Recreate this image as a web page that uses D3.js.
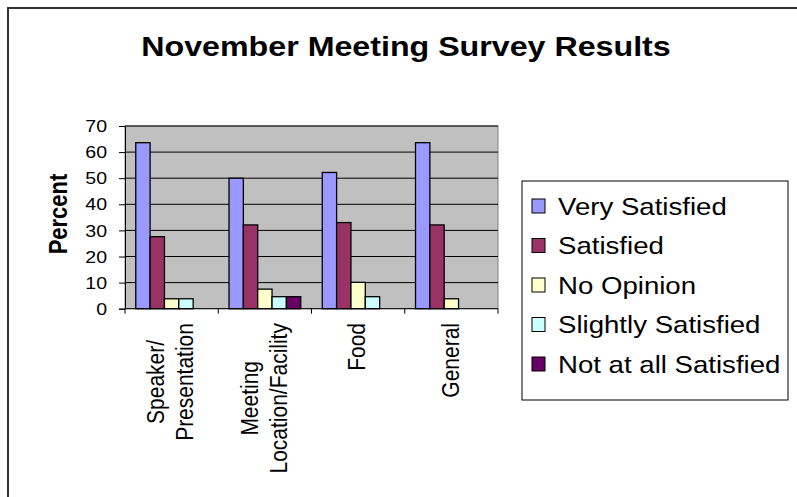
<!DOCTYPE html>
<html>
<head>
<meta charset="utf-8">
<script src="https://cdn.jsdelivr.net/npm/d3@7"></script>
<style>
  body { margin: 0; background: #fff; }
  svg { display: block; font-family: "Liberation Sans", Arial, sans-serif; }
</style>
</head>
<body>
<script>
// chart data
var categories = [["Speaker/", "Presentation"], ["Meeting", "Location/Facility"], ["Food"], ["General"]];
var seriesNames = ["Very Satisfied", "Satisfied", "No Opinion", "Slightly Satisfied", "Not at all Satisfied"];
var verySatisfied = [63.6, 50.0, 52.2, 63.6];
var satisfied = [27.6, 32.1, 33.0, 32.1];
var noOpinion = [3.8, 7.5, 10.1, 3.8];
var slightlySatisfied = [3.8, 4.6, 4.6, 0];
var notAtAll = [0, 4.6, 0, 0];
var yTicks = [0, 10, 20, 30, 40, 50, 60, 70];

var allSeries = [verySatisfied, satisfied, noOpinion, slightlySatisfied, notAtAll];
var colors = ["#9999ff", "#993366", "#ffffcc", "#ccffff", "#660066"];

var width = 797, height = 497;
var SX = 1.15; // text in the picture is a bit wide

var plot = { left: 125, right: 498, top: 126, bottom: 308.7 };

var svg = d3.select("body").append("svg")
    .attr("width", width)
    .attr("height", height);

// outer frame
svg.append("rect")
    .attr("x", 8).attr("y", 8)
    .attr("width", 820).attr("height", 520)
    .attr("fill", "#fff")
    .attr("stroke", "#333")
    .attr("stroke-width", 2);

// title
svg.append("text")
    .attr("transform", "translate(406,56) scale(" + SX + ",1)")
    .attr("text-anchor", "middle")
    .style("font-size", "28px")
    .style("font-weight", "bold")
    .text("November Meeting Survey Results");

var catKeys = categories.map(function (c) { return c.join(" "); });

var x0 = d3.scaleBand()
    .domain(catKeys)
    .range([plot.left, plot.right]);

var x1 = d3.scaleBand()
    .domain(seriesNames)
    .range([0, x0.bandwidth()])
    .paddingInner(0)
    .paddingOuter(0.75);

var y = d3.scaleLinear()
    .domain([0, 70])
    .range([plot.bottom, plot.top]);

// plot area
svg.append("rect")
    .attr("x", plot.left).attr("y", plot.top)
    .attr("width", plot.right - plot.left)
    .attr("height", plot.bottom - plot.top)
    .attr("fill", "#c0c0c0")
    .attr("stroke", "#808080")
    .attr("stroke-width", 1);

// gridlines
svg.append("g")
    .selectAll("line")
    .data(yTicks.filter(function (d) { return d > 0; }))
    .join("line")
    .attr("x1", plot.left).attr("x2", plot.right)
    .attr("y1", function (d) { return y(d); })
    .attr("y2", function (d) { return y(d); })
    .attr("stroke", "#000")
    .attr("stroke-width", 1);

// bars
var groups = svg.append("g")
    .selectAll("g")
    .data(catKeys)
    .join("g")
    .attr("transform", function (d) { return "translate(" + x0(d) + ",0)"; });

groups.selectAll("rect")
    .data(function (d, i) {
        return seriesNames.map(function (s, j) {
            return { name: s, value: allSeries[j][i], color: colors[j] };
        }).filter(function (b) { return b.value > 0; });
    })
    .join("rect")
    .attr("x", function (d) { return x1(d.name); })
    .attr("y", function (d) { return y(d.value); })
    .attr("width", x1.bandwidth())
    .attr("height", function (d) { return y(0) - y(d.value); })
    .attr("fill", function (d) { return d.color; })
    .attr("stroke", "#000")
    .attr("stroke-width", 1.3);

// y axis
var yAxis = svg.append("g")
    .attr("transform", "translate(" + plot.left + ",0)")
    .call(d3.axisLeft(y).tickValues(yTicks).tickSize(6).tickPadding(0).tickFormat(d3.format("d")));
yAxis.select(".domain").attr("stroke", "#000");
yAxis.selectAll(".tick line").attr("stroke", "#000");
yAxis.selectAll(".tick text").remove();

svg.append("g")
    .selectAll("text")
    .data(yTicks)
    .join("text")
    .attr("transform", function (d) { return "translate(107," + y(d) + ") scale(" + SX + ",1)"; })
    .attr("text-anchor", "end")
    .attr("dy", "0.36em")
    .style("font-size", "17px")
    .text(function (d) { return d; });

// x axis line and ticks at category edges
svg.append("line")
    .attr("x1", plot.left).attr("x2", plot.right)
    .attr("y1", plot.bottom).attr("y2", plot.bottom)
    .attr("stroke", "#000");

var edges = catKeys.map(function (d) { return x0(d); }).concat([plot.right]);
svg.append("g")
    .selectAll("line")
    .data(edges)
    .join("line")
    .attr("x1", function (d) { return d; })
    .attr("x2", function (d) { return d; })
    .attr("y1", plot.bottom).attr("y2", plot.bottom + 5)
    .attr("stroke", "#000");

// category labels, rotated; lines centred on each other, block hung from the axis
var lineGap = 29;
var labelTop = 323;
categories.forEach(function (lines, i) {
    var cx = x0(catKeys[i]) + x0.bandwidth() / 2;
    var texts = lines.map(function (t, k) {
        var off = (k - (lines.length - 1) / 2) * lineGap - 1.5;
        return svg.append("text")
            .attr("data-off", off)
            .attr("text-anchor", "middle")
            .attr("dy", "0.36em")
            .style("font-size", "21px")
            .text(t);
    });
    var maxLen = d3.max(texts, function (t) { return t.node().getComputedTextLength(); });
    var cy = labelTop + maxLen / 2;
    texts.forEach(function (t) {
        var off = +t.attr("data-off");
        t.attr("transform", "translate(" + (cx + off) + "," + cy + ") scale(" + SX + ",1) rotate(-90)");
    });
});

// y axis title
svg.append("text")
    .attr("transform", "translate(58,214) scale(" + SX + ",1) rotate(-90)")
    .attr("text-anchor", "middle")
    .attr("dy", "0.36em")
    .style("font-size", "22px")
    .style("font-weight", "bold")
    .text("Percent");

// legend
var legend = svg.append("g");
legend.append("rect")
    .attr("x", 522).attr("y", 181)
    .attr("width", 266).attr("height", 219)
    .attr("fill", "#fff")
    .attr("stroke", "#000")
    .attr("stroke-width", 1);

var legendY = d3.scalePoint()
    .domain(seriesNames)
    .range([206, 364]);

var items = legend.selectAll("g.item")
    .data(seriesNames)
    .join("g")
    .attr("class", "item")
    .attr("transform", function (d) { return "translate(0," + legendY(d) + ")"; });

items.append("rect")
    .attr("x", 532).attr("y", -7)
    .attr("width", 13).attr("height", 14)
    .attr("fill", function (d, i) { return colors[i]; })
    .attr("stroke", "#000")
    .attr("stroke-width", 1);

items.append("text")
    .attr("transform", "translate(558,0) scale(" + SX + ",1)")
    .attr("dy", "0.36em")
    .style("font-size", "24px")
    .text(function (d) { return d; });
</script>
</body>
</html>
